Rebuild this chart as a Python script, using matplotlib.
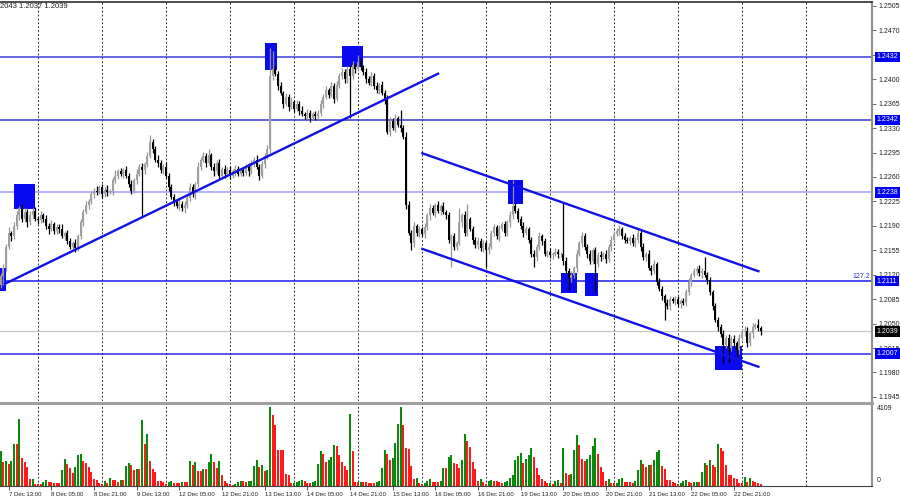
import numpy as np
import matplotlib.pyplot as plt
import matplotlib.transforms as mtransforms
from matplotlib.patches import Rectangle

plt.rcParams['font.family'] = ['Liberation Sans', 'DejaVu Sans']

# EURUSD H1, 7 Dec 10:00 -> 23 Dec 07:00 (one value per hourly bar)
first_open = 1.2105
closes = [
    1.2118, 1.2130, 1.2160, 1.2180, 1.2175, 1.2190, 1.2205, 1.2215, 1.2200, 1.2210,
    1.2195, 1.2205, 1.2212, 1.2200, 1.2198, 1.2205, 1.2200, 1.2190, 1.2185, 1.2192,
    1.2183, 1.2188, 1.2186, 1.2175, 1.2180, 1.2168, 1.2160, 1.2165, 1.2158, 1.2175,
    1.2195, 1.2210, 1.2220, 1.2225, 1.2235, 1.2240, 1.2238, 1.2245, 1.2236, 1.2242,
    1.2238, 1.2240, 1.2255, 1.2262, 1.2268, 1.2265, 1.2270, 1.2262, 1.2250, 1.2240,
    1.2255, 1.2265, 1.2275, 1.2270, 1.2278, 1.2290, 1.2310, 1.2300, 1.2285, 1.2280,
    1.2270, 1.2275, 1.2262, 1.2245, 1.2232, 1.2225, 1.2218, 1.2222, 1.2215, 1.2220,
    1.2230, 1.2245, 1.2235, 1.2250, 1.2275, 1.2285, 1.2290, 1.2280, 1.2292, 1.2275,
    1.2268, 1.2280, 1.2262, 1.2272, 1.2265, 1.2270, 1.2262, 1.2268, 1.2272, 1.2265,
    1.2270, 1.2266, 1.2274, 1.2268, 1.2280, 1.2285, 1.2275, 1.2262, 1.2278, 1.2290,
    1.2300, 1.2405, 1.2415, 1.2408, 1.2390, 1.2380, 1.2365, 1.2375, 1.2360, 1.2368,
    1.2358, 1.2365, 1.2355, 1.2350, 1.2348, 1.2352, 1.2345, 1.2350, 1.2347, 1.2352,
    1.2365, 1.2375, 1.2385, 1.2378, 1.2390, 1.2372, 1.2392, 1.2405, 1.2410, 1.2400,
    1.2415, 1.2405, 1.2420, 1.2415, 1.2425, 1.2418, 1.2410, 1.2400, 1.2395, 1.2405,
    1.2390, 1.2385, 1.2392, 1.2380, 1.2370, 1.2325, 1.2340, 1.2330, 1.2345, 1.2335,
    1.2330, 1.2318, 1.2220, 1.2180, 1.2165, 1.2190, 1.2180, 1.2185, 1.2178, 1.2188,
    1.2205, 1.2215, 1.2208, 1.2220, 1.2212, 1.2218, 1.2210, 1.2205, 1.2170, 1.2175,
    1.2160, 1.2165, 1.2195, 1.2205, 1.2180, 1.2200, 1.2185, 1.2170, 1.2162, 1.2168,
    1.2158, 1.2165, 1.2155, 1.2160, 1.2180, 1.2188, 1.2175, 1.2185, 1.2192, 1.2180,
    1.2195, 1.2205, 1.2218, 1.2212, 1.2200, 1.2190, 1.2180, 1.2185, 1.2170, 1.2150,
    1.2145, 1.2160, 1.2175, 1.2168, 1.2150, 1.2152, 1.2148, 1.2150, 1.2153, 1.2149,
    1.2150, 1.2140, 1.2125, 1.2115, 1.2120, 1.2130, 1.2150, 1.2165, 1.2175, 1.2160,
    1.2150, 1.2140, 1.2155, 1.2135, 1.2148, 1.2145, 1.2150, 1.2142, 1.2160, 1.2170,
    1.2178, 1.2183, 1.2185, 1.2175, 1.2170, 1.2168, 1.2172, 1.2165, 1.2170, 1.2180,
    1.2160, 1.2145, 1.2150, 1.2130, 1.2125, 1.2135, 1.2110, 1.2100, 1.2090, 1.2080,
    1.2075, 1.2085, 1.2082, 1.2085, 1.2078, 1.2082, 1.2080, 1.2095, 1.2110, 1.2120,
    1.2125, 1.2128, 1.2122, 1.2126, 1.2120, 1.2112, 1.2095, 1.2075, 1.2055, 1.2045,
    1.2035, 1.2020, 1.2030, 1.2015, 1.2028, 1.2022, 1.2012, 1.2030, 1.2038, 1.2040,
    1.2022, 1.2036, 1.2045, 1.2048, 1.2043, 1.2039,
]
# wick length beyond the candle body, in pips
hi_wick = [
    5, 6, 4, 8, 3, 5, 6, 4, 7, 5, 4, 6, 3, 5, 4, 7, 3, 5, 4, 6,
    3, 5, 4, 6, 3, 4, 5, 3, 6, 4, 5, 4, 6, 3, 5, 4, 7, 3, 5, 4,
    6, 3, 5, 8, 4, 5, 3, 6, 4, 5, 4, 6, 3, 5, 4, 6, 10, 5, 4, 6,
    5, 3, 6, 4, 5, 3, 4, 6, 3, 5, 4, 6, 5, 3, 7, 4, 6, 5, 8, 3,
    5, 4, 6, 3, 5, 4, 6, 3, 5, 4, 3, 5, 4, 6, 5, 3, 6, 4, 5, 4,
    6, 40, 25, 5, 4, 6, 3, 5, 4, 6, 3, 5, 4, 6, 3, 5, 4, 3, 5, 4,
    6, 4, 5, 3, 6, 4, 5, 4, 6, 5, 4, 5, 6, 4, 10, 5, 3, 6, 4, 5,
    4, 6, 3, 5, 4, 8, 6, 4, 5, 3, 21, 4, 6, 5, 4, 6, 3, 5, 4, 6,
    4, 6, 5, 3, 5, 4, 6, 3, 5, 4, 5, 3, 20, 4, 6, 22, 3, 5, 4, 6,
    4, 5, 3, 6, 4, 5, 3, 6, 4, 5, 4, 6, 38, 5, 3, 4, 6, 5, 3, 4,
    5, 4, 6, 3, 5, 4, 6, 3, 5, 4, 3, 73, 5, 4, 6, 3, 5, 4, 6, 5,
    4, 6, 3, 5, 4, 6, 3, 5, 4, 6, 5, 4, 6, 3, 5, 4, 3, 6, 4, 5,
    4, 6, 3, 5, 4, 6, 3, 5, 4, 3, 5, 4, 3, 5, 4, 3, 5, 4, 6, 3,
    5, 4, 6, 3, 19, 4, 5, 3, 4, 5, 4, 6, 3, 5, 4, 6, 3, 5, 4, 6,
    5, 4, 6, 3, 9, 4,
]
lo_wick = [
    4, 13, 5, 3, 6, 4, 5, 6, 4, 5, 6, 4, 5, 3, 6, 4, 5, 4, 6, 3,
    5, 4, 6, 3, 5, 4, 3, 6, 5, 4, 4, 5, 3, 6, 4, 5, 4, 3, 6, 4,
    5, 3, 6, 4, 5, 3, 6, 4, 5, 4, 3, 5, 4, 68, 5, 4, 3, 6, 4, 5,
    4, 6, 3, 5, 4, 6, 3, 5, 4, 6, 5, 4, 3, 6, 4, 5, 4, 6, 3, 5,
    6, 4, 5, 3, 6, 4, 5, 3, 6, 4, 4, 5, 3, 6, 4, 5, 4, 6, 3, 5,
    4, 5, 6, 4, 5, 3, 6, 4, 5, 3, 5, 4, 6, 3, 5, 4, 6, 3, 5, 4,
    4, 6, 3, 5, 4, 6, 3, 5, 4, 6, 5, 60, 4, 6, 3, 5, 4, 6, 3, 5,
    4, 5, 6, 3, 5, 4, 6, 3, 5, 4, 5, 4, 6, 3, 10, 5, 4, 6, 3, 5,
    4, 6, 3, 5, 4, 6, 3, 5, 4, 39, 5, 4, 3, 6, 4, 5, 3, 6, 4, 5,
    4, 5, 24, 6, 3, 5, 4, 6, 3, 5, 4, 6, 5, 3, 5, 4, 6, 3, 5, 4,
    14, 5, 4, 6, 3, 5, 4, 6, 3, 5, 4, 6, 3, 17, 5, 4, 6, 3, 5, 4,
    6, 4, 5, 40, 4, 6, 3, 5, 4, 6, 5, 3, 6, 4, 5, 3, 6, 4, 5, 4,
    6, 4, 5, 3, 6, 4, 5, 3, 6, 25, 4, 6, 3, 5, 4, 6, 3, 5, 4, 6,
    3, 5, 4, 6, 3, 5, 4, 6, 3, 5, 4, 27, 5, 20, 4, 6, 10, 5, 4, 6,
    5, 4, 6, 3, 4, 5,
]
volumes = [
    1740, 1210, 1240, 1090, 1240, 2090, 2070, 3330, 1380, 1210,
    960, 330, 350, 100, 100, 100, 220, 300, 220, 180,
    170, 170, 170, 800, 1330, 1090, 880, 660, 960, 1520,
    1590, 1240, 1160, 930, 700, 330, 300, 130, 100, 250,
    170, 400, 300, 300, 200, 300, 300, 990, 1130, 1040,
    800, 830, 830, 3280, 2070, 2580, 1240, 860, 710, 270,
    270, 200, 100, 200, 270, 170, 130, 130, 200, 200,
    200, 1240, 1060, 1210, 750, 730, 830, 830, 1190, 1590,
    1190, 880, 1240, 560, 270, 130, 100, 50, 100, 180,
    250, 230, 220, 250, 270, 990, 1290, 960, 1040, 760,
    800, 3910, 3530, 3000, 1790, 1790, 1790, 580, 550, 130,
    170, 220, 270, 300, 250, 170, 130, 220, 250, 1080,
    1720, 1590, 1190, 1290, 1420, 2020, 1960, 1520, 1180, 990,
    800, 3560, 1740, 200, 180, 220, 220, 220, 130, 130,
    130, 200, 250, 880, 1790, 1590, 1290, 1410, 2150, 3070,
    3910, 3030, 1870, 1820, 990, 360, 380, 130, 100, 170,
    250, 330, 220, 200, 200, 250, 890, 880, 1460,
    1540, 1130, 1090, 890, 1290, 2580, 2250, 1910, 1180, 830,
    250, 350, 220, 100, 270, 300, 270, 270, 220, 170,
    200, 270, 380, 550, 1290, 1490, 1620, 1130, 1360, 1520,
    1870, 1420, 880, 550, 330, 270, 130, 170, 100, 270,
    300, 130, 1870, 630, 550, 600, 1790, 2540, 2040, 1330,
    1230, 1330, 1520, 1990, 2370, 1590, 960, 710, 270, 360,
    170, 130, 170, 330, 400, 180, 180, 180, 170, 250,
    800, 1290, 1090, 930, 1040, 1040, 1290, 1690, 1770, 990,
    830, 300, 300, 220, 130, 100, 170, 270, 300, 220,
    130, 180, 220, 220, 700, 1130, 1040, 1290, 1040, 930,
    2090, 1860, 1740, 1040, 550, 550, 400, 330, 170, 130,
    430, 220, 380, 250, 180, 130, 100,
]
time_labels = ['7 Dec 13:00', '8 Dec 05:00', '8 Dec 21:00', '9 Dec 13:00',
               '12 Dec 05:00', '12 Dec 21:00', '13 Dec 13:00', '14 Dec 05:00',
               '14 Dec 21:00', '15 Dec 13:00', '16 Dec 05:00', '16 Dec 21:00',
               '19 Dec 13:00', '20 Dec 05:00', '20 Dec 21:00', '21 Dec 13:00',
               '22 Dec 05:00', '22 Dec 21:00']
price_ticks = [1.2505, 1.2470, 1.2435, 1.2400, 1.2365, 1.2330, 1.2295, 1.2260,
               1.2225, 1.2190, 1.2155, 1.2120, 1.2085, 1.2050, 1.2015, 1.1980, 1.1945]
levels = [1.2432, 1.2342, 1.2238, 1.2111, 1.2007]
level_colors = ['#3c3cdc', '#3535c8', '#9c9cff', '#1a1ae6', '#2a2ae0']
last_price = 1.2039
vol_max = 4109

# drawn objects: (bar, price) end points and boxes (bar0, bar1, low, high)
trend_up = [(1.6, 1.2107), (164.0, 1.2408)]
channel_top = [(158.1, 1.2294), (284.1, 1.2125)]
channel_bottom = [(158.1, 1.2157), (284.1, 1.19882)]
boxes = [(-0.5, 2.0, 1.2097, 1.2130), (5.0, 12.9, 1.2214, 1.2250),
         (99.1, 103.7, 1.2414, 1.2452), (127.9, 136.0, 1.2418, 1.2447),
         (190.1, 196.0, 1.2221, 1.2256), (210.0, 216.1, 1.2094, 1.2123),
         (219.1, 224.1, 1.2089, 1.2122), (268.0, 278.0, 1.1984, 1.2018)]

fig = plt.figure(figsize=(9, 5), dpi=100)
ax = fig.add_axes([0.0, 0.198, 0.9689, 0.798])
axv = fig.add_axes([0.0, 0.028, 0.9689, 0.166], sharex=ax)

n = len(closes)
x = np.arange(n)
c = np.array(closes)
o = np.r_[first_open, c[:-1]]
top = np.maximum(o, c)
bot = np.minimum(o, c)
hi = top + np.array(hi_wick) * 1e-4
lo = bot - np.array(lo_wick) * 1e-4
up = c >= o

# grid every 24 bars
for g in range(14, 310, 24):
    for a in (ax, axv):
        a.axvline(g, color='#303030', lw=0.7, ls=(0, (2, 2)), zorder=0.5)

for lv, col in zip(levels, level_colors):
    ax.axhline(lv, color=col, lw=1.1, zorder=1)
ax.axhline(last_price, color='#c8c8c8', lw=0.9, zorder=1)

for b0, b1, p0, p1 in boxes:
    ax.add_patch(Rectangle((b0, p0), b1 - b0, p1 - p0, fc='#0a0af0', ec='none', zorder=1.5))

ax.vlines(x[up], lo[up], hi[up], color='#959595', lw=0.9, zorder=2)
ax.vlines(x[~up], lo[~up], hi[~up], color='black', lw=0.9, zorder=2)
body = np.maximum(top - bot, 0.00008)
ax.bar(x[up], body[up], bottom=bot[up], width=0.78, color='#a0a0a0', zorder=2.1)
ax.bar(x[~up], body[~up], bottom=bot[~up], width=0.78, color='black', zorder=2.1)

for ln in (trend_up, channel_top, channel_bottom):
    ax.plot([ln[0][0], ln[1][0]], [ln[0][1], ln[1][1]], color='#1010e8', lw=1.7, zorder=3)

ax.set_xlim(-0.25, 326.7)
ax.set_ylim(1.19391, 1.25107)

ax.yaxis.tick_right()
ax.set_yticks(price_ticks)
# 1.2435 sits under the 1.2432 level tag, as on the terminal
ax.set_yticklabels(['' if t == 1.2435 else '%.4f' % t for t in price_ticks])
ax.tick_params(axis='y', length=3, width=0.6, color='#505050', labelsize=5, pad=2, labelcolor='#202020')
ax.tick_params(axis='x', bottom=False, labelbottom=False)
for s in ('left', 'bottom'):
    ax.spines[s].set_visible(False)
ax.spines['top'].set_color('#303030')
ax.spines['top'].set_linewidth(1.2)
ax.spines['right'].set_color('#909090')
ax.spines['right'].set_linewidth(1.5)

# price labels for levels and bid
blend = mtransforms.blended_transform_factory(ax.transAxes, ax.transData)
lab_tr = mtransforms.offset_copy(blend, fig=fig, x=3.5, y=0, units='points')
for lv in levels:
    ax.text(1.0, lv, '%.4f' % lv, transform=lab_tr, ha='left', va='center', fontsize=5,
            color='white', clip_on=False, zorder=5,
            bbox=dict(boxstyle='square,pad=0.25', fc='#0000f0', ec='none'))
ax.text(1.0, last_price, '%.4f' % last_price, transform=lab_tr, ha='left', va='center',
        fontsize=5, color='white', clip_on=False, zorder=5,
        bbox=dict(boxstyle='square,pad=0.25', fc='black', ec='none'))
ax.text(0.998, levels[3] + 0.0002, '127.2', transform=blend, ha='right', va='bottom',
        fontsize=5, color='#3030e0')

fig.text(0.0, 0.986, '2043 1.2037 1.2039', fontsize=5.5, color='#202020', va='center')

# volumes, green when above the previous bar
v = np.array(volumes)
rising = np.r_[True, v[1:] > v[:-1]]
axv.bar(x[rising], v[rising], width=0.75, color='#0a8a0a', zorder=2)
axv.bar(x[~rising], v[~rising], width=0.75, color='#ff1a1a', zorder=2)
axv.set_ylim(0, vol_max)
axv.set_yticks([])
axv.spines['left'].set_visible(False)
axv.spines['top'].set_color('#a0a0a0')
axv.spines['top'].set_linewidth(2.2)
axv.spines['bottom'].set_color('#404040')
axv.spines['right'].set_color('#909090')
axv.spines['right'].set_linewidth(1.5)
vblend = mtransforms.offset_copy(axv.transAxes, fig=fig, x=3.5, units='points')
axv.text(1.0, 0.98, str(vol_max), transform=vblend, ha='left', va='top', fontsize=5, color='#202020')
axv.text(1.0, 0.02, '0', transform=vblend, ha='left', va='bottom', fontsize=5, color='#202020')

tick_pos = [3 + 16 * k for k in range(len(time_labels))]
axv.set_xticks(tick_pos)
axv.set_xticklabels(time_labels)
axv.tick_params(axis='x', length=3, width=0.6, color='#404040', labelsize=4.3, pad=1.5, labelcolor='#202020')
for lab in axv.get_xticklabels():
    lab.set_horizontalalignment('left')

fig.savefig('out.png', dpi=100)
